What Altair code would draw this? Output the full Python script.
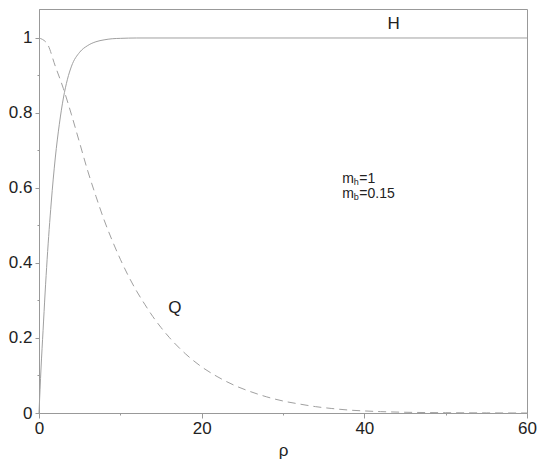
import altair as alt
import pandas as pd

# H curve (solid)
h_p = [0, 0.25, 0.5, 0.75, 1, 1.5, 2, 2.5, 3, 3.5, 4, 5, 6, 7, 8, 9, 10, 12, 60]
h_v = [0, 0.12, 0.22, 0.32, 0.41, 0.56, 0.68, 0.77, 0.84, 0.89, 0.925, 0.962, 0.98, 0.99, 0.995, 0.998, 0.999, 1.0, 1.0]

# Q curve (dashed)
q_p = [0, 1, 2, 3, 4, 5, 6, 7, 8, 9, 10, 11, 12, 13, 14, 15, 16, 18, 20, 22, 24, 26, 28, 30,
       32, 34, 36, 38, 40, 42, 45, 50, 55, 60]
q_v = [1.0, 0.985, 0.925, 0.865, 0.795, 0.72, 0.645, 0.578, 0.515, 0.46, 0.41, 0.365, 0.325,
       0.29, 0.257, 0.228, 0.202, 0.158, 0.123, 0.096, 0.074, 0.057, 0.043, 0.032, 0.024,
       0.017, 0.012, 0.008, 0.0055, 0.0037, 0.002, 0.0008, 0.0003, 0.0]

# curve labels
lab_text = ["H", "Q"]
lab_p = [43.6, 16.7]
lab_v = [1.036, 0.279]

# parameter annotation
param_p = 37.3
param_v = [0.6125, 0.5725]
param_sub = ["h", "b"]
param_val = ["=1", "=0.15"]

x_ticks = [0, 10, 20, 30, 40, 50, 60]
y_ticks = [0, 0.1, 0.2, 0.3, 0.4, 0.5, 0.6, 0.7, 0.8, 0.9, 1.0]

FONT = "Liberation Sans"
GRAY = "#a0a0a0"

h_df = pd.DataFrame({"p": h_p, "v": h_v})
q_df = pd.DataFrame({"p": q_p, "v": q_v})
lab_df = pd.DataFrame({"t": lab_text, "p": lab_p, "v": lab_v})
par_df = pd.DataFrame({"p": [param_p] * 2, "v": param_v, "sub": param_sub, "val": param_val,
                       "m": ["m", "m"]})

xscale = alt.Scale(domain=[0, 60], nice=False, zero=False)
yscale = alt.Scale(domain=[0, 1.0773], nice=False, zero=False)

xaxis = alt.Axis(
    title="ρ", values=x_ticks, grid=False, labelFlush=False, labelOverlap=False,
    labelExpr="datum.value % 20 == 0 ? datum.label : ''",
    tickSize={"condition": {"test": "datum.value % 20 != 0", "value": 2}, "value": 5},
    titleFont=FONT, titleFontSize=17, titleFontWeight="normal", titleColor="#222",
    titlePadding=6,
)
yaxis = alt.Axis(
    title=None, values=y_ticks, grid=False, format="~g", labelOverlap=False,
    labelExpr="round(datum.value * 10) % 2 == 0 ? datum.label : ''",
    tickSize={"condition": {"test": "round(datum.value * 10) % 2 == 1", "value": 2}, "value": 4},
    labelPadding=3,
)

x_enc = alt.X("p:Q", scale=xscale, axis=xaxis)
y_enc = alt.Y("v:Q", scale=yscale, axis=yaxis)

h_line = alt.Chart(h_df).mark_line(color=GRAY, strokeWidth=1, interpolate="monotone").encode(
    x=x_enc, y=y_enc)
q_line = alt.Chart(q_df).mark_line(color=GRAY, strokeWidth=1, strokeDash=[8, 5],
                                   interpolate="monotone").encode(x="p:Q", y="v:Q")

labels = alt.Chart(lab_df).mark_text(font=FONT, fontSize=17, color="#222", align="center",
                                     baseline="middle").encode(x="p:Q", y="v:Q", text="t:N")

m_txt = alt.Chart(par_df).mark_text(font=FONT, fontSize=14, color="#222", align="left",
                                    baseline="alphabetic").encode(x="p:Q", y="v:Q", text="m:N")
sub_txt = alt.Chart(par_df).mark_text(font=FONT, fontSize=9, color="#222", align="left",
                                      baseline="alphabetic", dx=11.5, dy=1.5).encode(
    x="p:Q", y="v:Q", text="sub:N")
val_txt = alt.Chart(par_df).mark_text(font=FONT, fontSize=14, color="#222", align="left",
                                      baseline="alphabetic", dx=17).encode(
    x="p:Q", y="v:Q", text="val:N")

chart = alt.layer(h_line, q_line, labels, m_txt, sub_txt, val_txt).properties(
    width=488, height=404,
    padding={"left": 31, "top": 1, "right": 10, "bottom": 46},
    autosize=alt.AutoSizeParams(type="none"),
).configure_view(
    stroke="#999999", strokeWidth=1
).configure_axis(
    domainColor="#999999", tickColor="#999999", labelFont=FONT, labelFontSize=17,
    labelColor="#222", domainWidth=1, tickWidth=1,
)

chart.save("out.html", embed_options={"renderer": "svg", "actions": False})
